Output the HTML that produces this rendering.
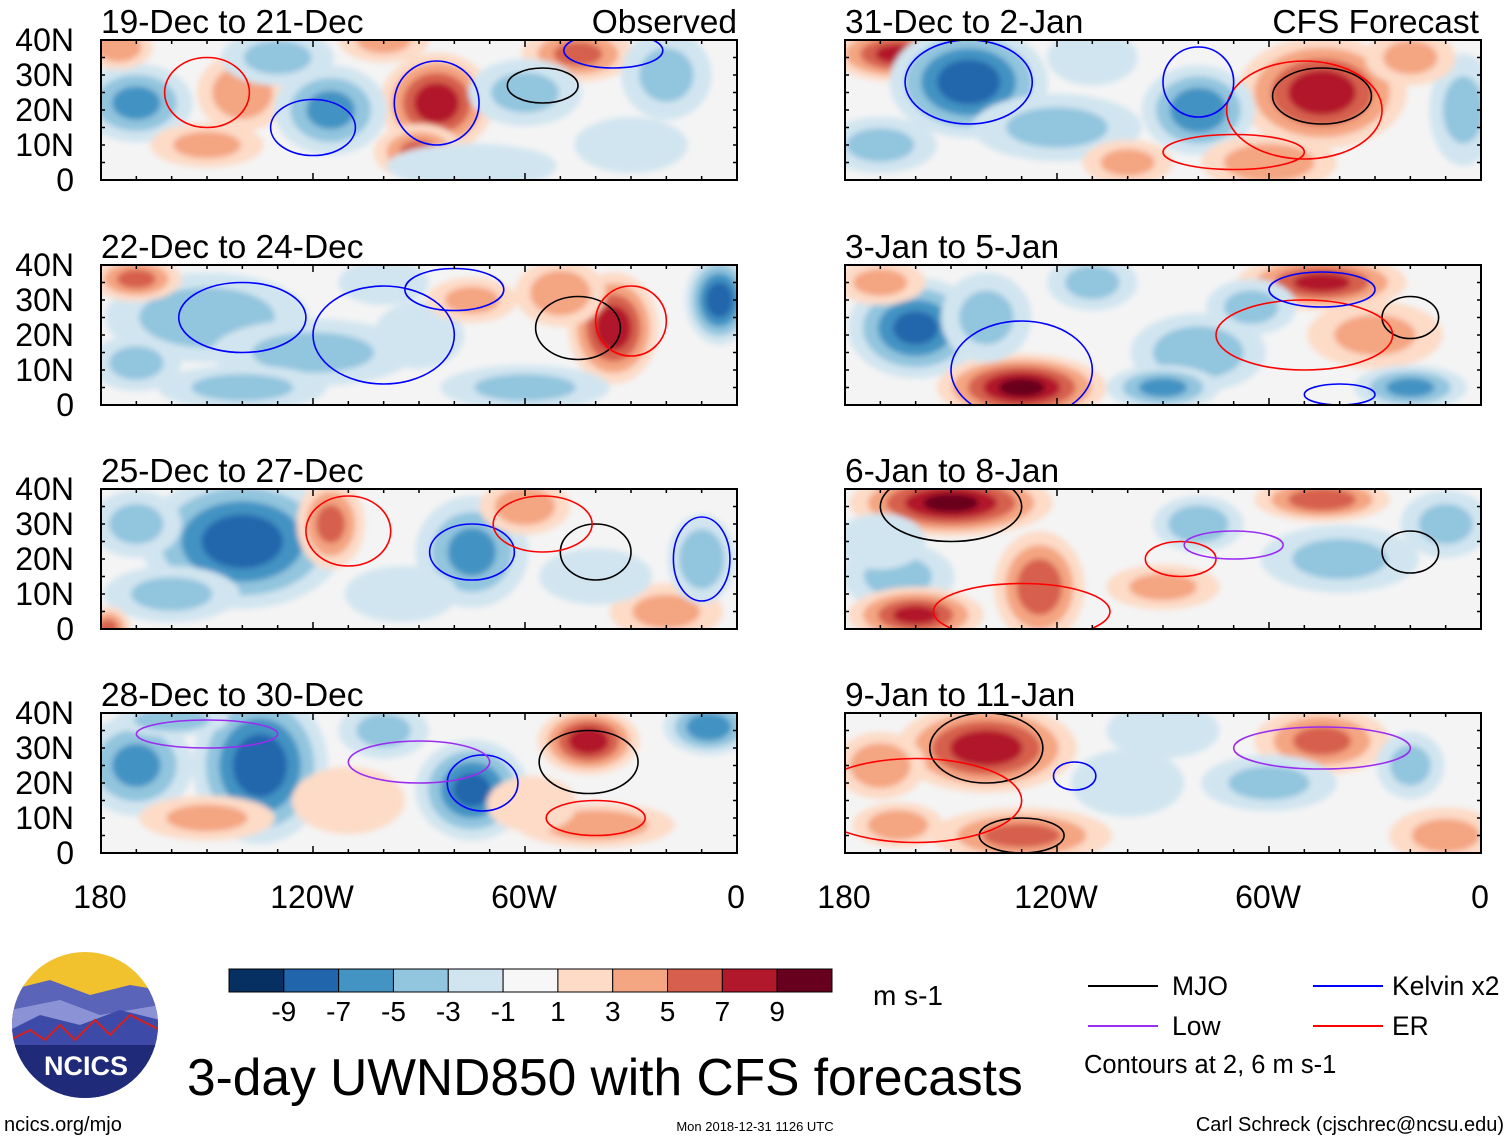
<!DOCTYPE html>
<html><head><meta charset="utf-8"><style>
body{margin:0;background:#fff;}
svg text{font-family:"Liberation Sans",sans-serif;}
</style></head><body>
<svg id="chart" width="1510" height="1141" xmlns="http://www.w3.org/2000/svg">
<defs><filter id="bl" x="-20%" y="-20%" width="140%" height="140%"><feGaussianBlur stdDeviation="3"/></filter></defs>
<g id="panels"></g>
<g id="bottom"></g>
</svg>
<script>
// Panel titles
const titles = ["19-Dec to 21-Dec","22-Dec to 24-Dec","25-Dec to 27-Dec","28-Dec to 30-Dec","31-Dec to 2-Jan","3-Jan to 5-Jan","6-Jan to 8-Jan","9-Jan to 11-Jan"];
const latTicks = [40,30,20,10,0];
const latLabels = ["40N","30N","20N","10N","0"];
const lonTicks = [-180,-120,-60,0];
const lonLabels = ["180","120W","60W","0"];
const cbLevels = [-9,-7,-5,-3,-1,1,3,5,7,9];
// anomaly blobs: [lon, lat, rxDeg, ryDeg, value]
const blobs0 = [[-85,22,10,9,8],[-170,22,10,7,-5],[-140,25,8,7,4],[-115,20,10,8,-5],[-100,40,8,4,3],[-45,36,10,5,5],[-60,25,10,6,-3],[-90,8,8,5,5],[-20,30,8,8,-3],[-150,10,10,4,3],[-75,4,15,4,-2],[-130,35,10,5,-3],[-175,38,6,4,4],[-30,10,10,5,-2]];
const blobs1 = [[-35,22,8,10,8],[-5,30,6,8,-8],[-150,25,18,8,-4],[-170,36,8,4,5],[-120,15,18,6,-3],[-100,35,8,4,-2],[-50,32,8,6,4],[-60,5,15,4,-3],[-140,5,15,4,-3],[-90,20,8,6,-2],[-75,30,8,4,3],[-170,12,8,5,-3]];
const blobs2 = [[-140,25,18,12,-8],[-115,30,6,8,5],[-75,22,10,10,-5],[-60,35,8,5,4],[-20,5,10,5,3],[-10,20,6,8,-4],[-160,10,12,5,-3],[-178,0,4,4,5],[-40,15,10,5,-2],[-170,30,8,6,-3],[-95,10,10,5,-2]];
const blobs3 = [[-135,25,12,14,-8],[-170,25,10,9,-5],[-75,18,10,9,-7],[-42,32,9,6,8],[-8,36,8,5,-6],[-40,8,14,4,4],[-150,10,12,4,3],[-100,35,8,5,-3],[-58,14,8,5,2],[-160,38,10,3,-4],[-110,15,10,6,2]];
const blobs4 = [[-165,36,12,5,7],[-145,28,14,10,-8],[-45,25,15,10,8],[-80,20,10,8,-6],[-60,5,12,5,4],[-120,15,15,6,-3],[-5,20,6,10,-3],[-100,5,8,4,3],[-170,10,10,5,-3],[-20,35,8,5,3],[-110,35,8,5,-2]];
const blobs5 = [[-160,22,12,9,-7],[-130,5,15,6,9],[-45,35,15,5,7],[-80,15,12,7,-4],[-110,35,8,5,-3],[-30,20,12,6,3],[-20,5,10,4,-5],[-90,5,10,4,-5],[-65,28,8,5,-3],[-170,35,8,4,3],[-140,25,8,8,-3]];
const blobs6 = [[-150,36,18,6,9],[-125,12,8,10,6],[-165,15,10,6,-3],[-45,37,12,4,6],[-40,20,14,6,-3],[-80,30,8,5,-4],[-160,4,12,5,7],[-90,12,10,4,3],[-10,30,8,6,-3],[-170,25,8,5,-2]];
const blobs7 = [[-140,30,16,8,8],[-170,25,8,6,4],[-130,5,16,5,5],[-45,32,12,6,5],[-10,5,10,5,3],[-60,20,12,5,-3],[-100,20,10,6,-2],[-165,8,8,4,4],[-20,25,6,6,-3],[-90,35,10,5,-2]];
const blobsAll = [blobs0,blobs1,blobs2,blobs3,blobs4,blobs5,blobs6,blobs7];
// contours: [lon, lat, rxDeg, ryDeg, type]  type: 0 MJO,1 Kelvin,2 Low,3 ER
const cont0 = [[-85,22,12,12,1],[-55,27,10,5,0],[-150,25,12,10,3],[-120,15,12,8,1],[-35,37,14,5,1]];
const cont1 = [[-45,22,12,9,0],[-30,24,10,10,3],[-140,25,18,10,1],[-80,33,14,6,1],[-100,20,20,14,1]];
const cont2 = [[-40,22,10,8,0],[-110,28,12,10,3],[-75,22,12,8,1],[-55,30,14,8,3],[-10,20,8,12,1]];
const cont3 = [[-72,20,10,8,1],[-42,26,14,9,0],[-40,10,14,5,3],[-150,34,20,4,2],[-90,26,20,6,2]];
const cont4 = [[-45,24,14,8,0],[-50,20,22,14,3],[-145,28,18,12,1],[-80,28,10,10,1],[-70,8,20,5,3]];
const cont5 = [[-20,25,8,6,0],[-50,20,25,10,3],[-130,10,20,14,1],[-45,33,15,5,1],[-40,3,10,3,1]];
const cont6 = [[-20,22,8,6,0],[-150,35,20,10,0],[-130,5,25,8,3],[-85,20,10,5,3],[-70,24,14,4,2]];
const cont7 = [[-140,30,16,10,0],[-130,5,12,5,0],[-160,15,30,12,3],[-45,30,25,6,2],[-115,22,6,4,1]];
const contAll = [cont0,cont1,cont2,cont3,cont4,cont5,cont6,cont7];

const NS="http://www.w3.org/2000/svg";
function mk(tag,attrs,parent){const e=document.createElementNS(NS,tag);for(const k in attrs)e.setAttribute(k,attrs[k]);if(parent)parent.appendChild(e);return e;}
const cbColors=["#053061","#2166ac","#4393c3","#92c5de","#d1e5f0","#f7f7f7","#fddbc7","#f4a582","#d6604d","#b2182b","#67001f"];
function colorFor(v){let i=0;while(i<cbLevels.length&&v>cbLevels[i])i++;return cbColors[i];}
const contColors=["#000","#0000ff","#9a2df0","#ff0000"];
const SC=1.6;
const panelsG=document.getElementById('panels');
const lefts=[101,845], tops=[40,265,489,713], PW=636, PH=140;
for(let p=0;p<8;p++){
  const col=p<4?0:1, row=p%4;
  const x0=lefts[col], y0=tops[row];
  const xs=lon=>x0+(lon+180)/180*PW;
  const ys=lat=>y0+(40-lat)/40*PH;
  const g=mk('g',{},panelsG);
  
  
  const cp=mk('clipPath',{id:'cp'+p},g);
  mk('rect',{x:x0,y:y0,width:PW,height:PH},cp);
  const inner=mk('g',{'clip-path':'url(#cp'+p+')'},g);
  mk('rect',{x:x0,y:y0,width:PW,height:PH,fill:'#f4f4f4'},inner);
  const fg=mk('g',{filter:'url(#bl)'},inner);
  blobsAll[p].forEach(b=>{
    const [lon,lat,rx,ry,v]=b;const av=Math.abs(v),s=Math.sign(v);
    for(let l=1;l<=av;l+=2){
      const f=1-(l-1)/(av+2);
      const e=mk('ellipse',{cx:xs(lon),cy:ys(lat),rx:SC*rx/180*PW*f,ry:SC*ry/40*PH*f,fill:colorFor(s*(l+0.5))},fg);
      
      
    }
  });
  contAll[p].forEach(c=>{
    const e=mk('ellipse',{cx:xs(c[0]),cy:ys(c[1]),rx:c[2]/180*PW,ry:c[3]/40*PH,fill:'none',stroke:contColors[c[4]],'stroke-width':1.6},inner);
    
    
  });
  mk('rect',{x:x0,y:y0,width:PW,height:PH,fill:'none',stroke:'#000','stroke-width':2},g);
  for(let lon=-180;lon<=0;lon+=10){
    const big=lon%60===0;const L=big?7:4;
    mk('line',{x1:xs(lon),x2:xs(lon),y1:y0,y2:y0+L,stroke:'#000','stroke-width':1.5},g);
    mk('line',{x1:xs(lon),x2:xs(lon),y1:y0+PH,y2:y0+PH-L,stroke:'#000','stroke-width':1.5},g);
  }
  for(let lat=0;lat<=40;lat+=5){
    mk('line',{x1:x0,x2:x0+4,y1:ys(lat),y2:ys(lat),stroke:'#000','stroke-width':1.5},g);
    mk('line',{x1:x0+PW,x2:x0+PW-4,y1:ys(lat),y2:ys(lat),stroke:'#000','stroke-width':1.5},g);
  }
  const t=mk('text',{x:x0,y:y0-7,'font-size':33.5},g);t.textContent=titles[p];
  
  if(p===0){const o=mk('text',{x:x0+PW,y:y0-7,'font-size':33.5,'text-anchor':'end'},g);o.textContent='Observed';}
  if(p===4){const o=mk('text',{x:x0+PW-2,y:y0-7,'font-size':33.5,'text-anchor':'end'},g);o.textContent='CFS Forecast';}
  if(col===0){latTicks.forEach((lat,i)=>{const tt=mk('text',{x:74,y:ys(lat)+11,'font-size':32,'text-anchor':'end'},g);tt.textContent=latLabels[i];});}
  if(row===3){lonTicks.forEach((lon,i)=>{const tt=mk('text',{x:xs(lon)-1,y:908,'font-size':32,'text-anchor':'middle'},g);tt.textContent=lonLabels[i];});}
}
// colorbar
const bot=document.getElementById('bottom');
const cbx0=229,cbw=603/11;
cbColors.forEach((c,i)=>{const r=mk('rect',{x:cbx0+i*cbw,y:969,width:cbw,height:23,fill:c,stroke:'#000','stroke-width':1},bot);});
cbLevels.forEach((v,i)=>{const t=mk('text',{x:cbx0+(i+1)*cbw,y:1021,'font-size':28,'text-anchor':'middle'},bot);t.textContent=v;});
</script>
<svg style="position:absolute;left:0;top:0" width="1510" height="1141">
<g>
<clipPath id="lc"><circle cx="85" cy="1025" r="73"/></clipPath>
<g clip-path="url(#lc)">
<rect x="10" y="950" width="150" height="150" fill="#f2c12e"/>
<path d="M10 990 L50 980 L90 995 L130 985 L160 990 L160 1100 L10 1100Z" fill="#5a64b8"/>
<path d="M10 1010 L60 1000 L100 1015 L160 1005 L160 1100 L10 1100Z" fill="#8b93d6"/>
<path d="M10 1030 L40 1015 L80 1025 L120 1010 L160 1020 L160 1100 L10 1100Z" fill="#3d4aa8"/>
<path d="M10 1040 L30 1030 L45 1040 L60 1025 L75 1040 L95 1020 L110 1035 L130 1015 L160 1030" stroke="#d42020" stroke-width="2" fill="none"/>
<rect x="10" y="1045" width="150" height="60" fill="#1f2a78"/>
</g>
<text x="86" y="1075" font-size="27" font-weight="bold" fill="#fff" text-anchor="middle" font-family="Liberation Sans,sans-serif">NCICS</text>
</g>
<text x="873" y="1005" font-size="28" font-family="Liberation Sans,sans-serif">m s-1</text>
<text x="187" y="1095" font-size="51.5" font-family="Liberation Sans,sans-serif">3-day UWND850 with CFS forecasts</text>
<g font-family="Liberation Sans,sans-serif" font-size="26.5">
<line x1="1088" y1="986" x2="1158" y2="986" stroke="#000" stroke-width="2"/><text x="1172" y="995">MJO</text>
<line x1="1313" y1="986" x2="1383" y2="986" stroke="#0000ff" stroke-width="2"/><text x="1392" y="995">Kelvin x2</text>
<line x1="1088" y1="1026" x2="1158" y2="1026" stroke="#9a2df0" stroke-width="2"/><text x="1172" y="1035">Low</text>
<line x1="1313" y1="1026" x2="1383" y2="1026" stroke="#ff0000" stroke-width="2"/><text x="1392" y="1035">ER</text>
<text x="1084" y="1073" font-size="25.5">Contours at 2, 6 m s-1</text>
</g>
<text x="4" y="1131" font-size="20" font-family="Liberation Sans,sans-serif">ncics.org/mjo</text>
<text x="755" y="1131" font-size="13" text-anchor="middle" font-family="Liberation Sans,sans-serif">Mon 2018-12-31 1126 UTC</text>
<text x="1504" y="1131" font-size="20" text-anchor="end" font-family="Liberation Sans,sans-serif">Carl Schreck (cjschrec@ncsu.edu)</text>
</svg>
</body></html>
